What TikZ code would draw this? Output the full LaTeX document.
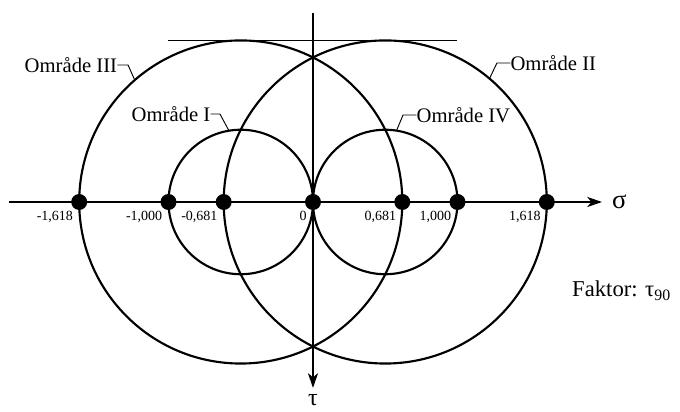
\documentclass[tikz,border=0pt]{standalone}
\usepackage{fontspec}
\setmainfont{Liberation Serif}
\usepackage{tikz}
\usetikzlibrary{arrows.meta, positioning, calc}

\begin{document}
\begin{tikzpicture}[
    x=108.375pt, y=108.375pt,
    kreds/.style={line width=1.6pt},
    akse/.style={line width=1.6pt, -{Stealth[length=11pt, width=7.5pt, inset=3pt]}},
    prik/.style={circle, fill, inner sep=0pt, minimum size=12pt},
    tal/.style={font=\fontsize{10.5}{12}\selectfont, inner sep=0pt},
    omraade/.style={font=\fontsize{15.5}{18}\selectfont, inner sep=0pt},
    henvis/.style={line width=0.7pt}
  ]
  \useasboundingbox (-2.1661,-1.4533) rectangle (2.5398,1.3979);

  % --- Akser ---
  \coordinate (sstart) at (-2.104,0);
  \coordinate (sslut) at (2.0,0);
  \coordinate (tstart) at (0,1.308);
  \coordinate (tslut) at (0,-1.287);
  \draw[akse] (sstart) -- (sslut);
  \draw[akse] (tstart) -- (tslut);
  \node[font=\fontsize{20}{24}\selectfont, inner sep=0pt, anchor=west]
    (sigma) at (2.068,0) {σ};
  \node[font=\fontsize{18}{22}\selectfont, inner sep=0pt, anchor=north]
    (tau) at (0,-1.33) {τ};

  % --- Cirkler ---
  \coordinate (cV) at (-0.5,0);
  \coordinate (cH) at (0.5,0);
  \draw[kreds] (cV) circle[radius=1.118];
  \draw[kreds] (cH) circle[radius=1.118];
  \draw[kreds] (cV) circle[radius=0.5];
  \draw[kreds] (cH) circle[radius=0.5];

  % vandret tangent over de store cirkler
  \coordinate (tanV) at (-1,1.118);
  \coordinate (tanH) at (1,1.118);
  \draw[henvis] (tanV) -- (tanH);

  % --- Punkter paa sigma-aksen ---
  \foreach \navn/\x/\tekst in {a/-1.618/{-1,618}, b/-1/{-1,000},
      c/-0.618/{-0,681}, d/0/{0}, e/0.618/{0,681}, f/1/{1,000},
      g/1.618/{1,618}} {
    \node[prik] (p\navn) at (\x,0) {};
    \node[tal, below left=6.5pt and 4.5pt of p\navn.center] (t\navn) {\tekst};
  }

  % --- Omraader ---
  \coordinate (rIII) at ($(cV)+(131:1.118)$);
  \coordinate (kIII) at (-1.28,0.948);
  \node[omraade, left=8pt of kIII] (omrIII) {Område III};
  \draw[henvis] (rIII) -- (kIII) -- (omrIII.east);

  \coordinate (rI) at ($(cV)+(99.4:0.5)$);
  \coordinate (kI) at (-0.644,0.609);
  \node[omraade, left=7pt of kI] (omrI) {Område I};
  \draw[henvis] (rI) -- (kI) -- (omrI.east);

  \coordinate (rII) at ($(cH)+(49.8:1.118)$);
  \coordinate (kII) at (1.273,0.962);
  \node[omraade, right=10pt of kII] (omrII) {Område II};
  \draw[henvis] (rII) -- (kII) -- (omrII.west);

  \coordinate (rIV) at ($(cH)+(81:0.5)$);
  \coordinate (kIV) at (0.623,0.602);
  \node[omraade, right=10pt of kIV] (omrIV) {Område IV};
  \draw[henvis] (rIV) -- (kIV) -- (omrIV.west);

  \node[font=\fontsize{17}{20}\selectfont, inner sep=0pt, anchor=base west]
    (faktor) at (1.792,-0.657) {Faktor: τ\textsubscript{90}};
\end{tikzpicture}
\end{document}
